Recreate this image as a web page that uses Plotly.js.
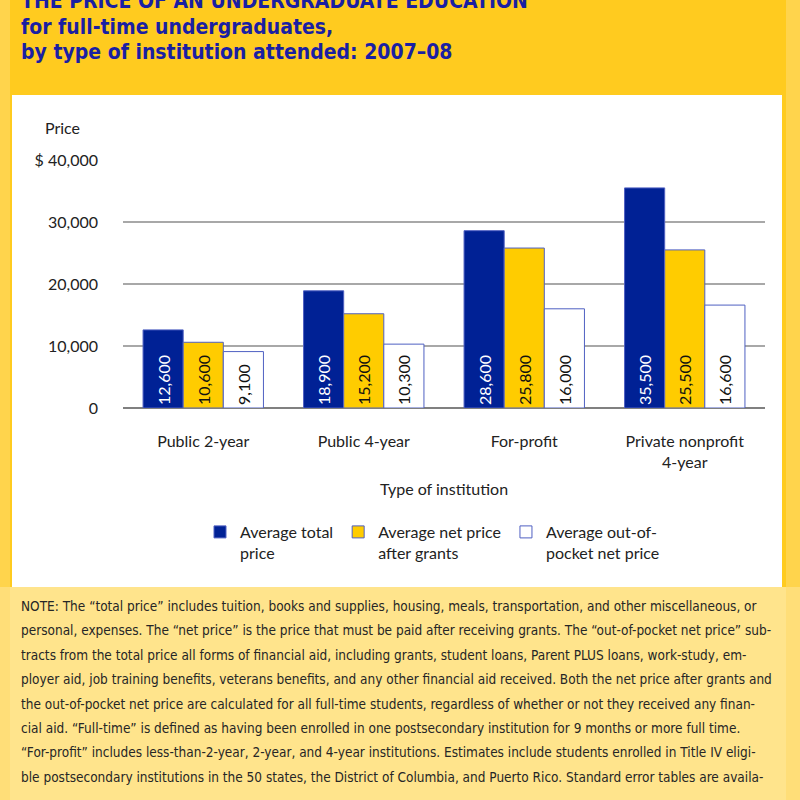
<!DOCTYPE html>
<html><head><meta charset="utf-8">
<script src="https://cdn.plot.ly/plotly-3.0.1.min.js"></script>
<style>html,body{margin:0;padding:0;background:#FFCB1F;}#chart{width:800px;height:800px;}</style>
</head><body><div id="chart"></div>
<script>
const categories = ['Public 2-year', 'Public 4-year', 'For-profit', 'Private nonprofit<br>4-year'];
const totalPrice = [12600, 18900, 28600, 35500];
const netPriceAfterGrants = [10600, 15200, 25800, 25500];
const outOfPocketNetPrice = [9100, 10300, 16000, 16600];
const seriesNames = ['Average total<br>price', 'Average net price<br>after grants', 'Average out-of-<br>pocket net price'];
const yTickVals = [0, 10000, 20000, 30000, 40000];
const yTickText = ['0', '10,000', '20,000', '30,000', '$ 40,000'];
const titleLines = ['THE PRICE OF AN UNDERGRADUATE EDUCATION', 'for full-time undergraduates,', 'by type of institution attended: 2007–08'];
const noteLines = [
 'NOTE: The “total price” includes tuition, books and supplies, housing, meals, transportation, and other miscellaneous, or',
 'personal, expenses. The “net price” is the price that must be paid after receiving grants. The “out-of-pocket net price” sub-',
 'tracts from the total price all forms of financial aid, including grants, student loans, Parent PLUS loans, work-study, em-',
 'ployer aid, job training benefits, veterans benefits, and any other financial aid received. Both the net price after grants and',
 'the out-of-pocket net price are calculated for all full-time students, regardless of whether or not they received any finan-',
 'cial aid. “Full-time” is defined as having been enrolled in one postsecondary institution for 9 months or more full time.',
 '“For-profit” includes less-than-2-year, 2-year, and 4-year institutions. Estimates include students enrolled in Title IV eligi-',
 'ble postsecondary institutions in the 50 states, the District of Columbia, and Puerto Rico. Standard error tables are availa-'
];

// plot area in pixels
const L = 123, R = 765, T = 160, B = 408;
const px2x = p => (p - L) / (R - L);
const px2y = p => (B - p) / (B - T);

const NARROW = '"DejaVu Sans Condensed", "Liberation Sans Narrow", sans-serif';
const AXF = 'Lato, "Liberation Sans", sans-serif';
const outline = '#4f60c2';

// pick a note font size so the longest line fits the panel width
function fitSize(lines, family, maxW, start) {
  const c = document.createElement('canvas').getContext('2d');
  let s = start;
  while (s > 8) {
    c.font = s + 'px ' + family;
    const w = Math.max(...lines.map(t => c.measureText(t).width));
    if (w <= maxW) break;
    s -= 0.25;
  }
  return s;
}
const noteSize = fitSize(noteLines, NARROW, 758, 16);

const mk = (y, name, fill, txtColor) => ({
  type: 'bar', x: categories, y: y, name: name,
  marker: {color: fill, line: {color: outline, width: 1}},
  texttemplate: '%{y:,}', textposition: 'inside', insidetextanchor: 'start', textangle: -90,
  textfont: {family: AXF, size: 16, color: txtColor}, constraintext: 'none',
  hoverinfo: 'skip'
});

const data = [
  mk(totalPrice, seriesNames[0], '#002195', '#ffffff'),
  mk(netPriceAfterGrants, seriesNames[1], '#FFCC00', '#111111'),
  mk(outOfPocketNetPrice, seriesNames[2], '#ffffff', '#111111')
];

const annotations = [];
titleLines.forEach((t, i) => annotations.push({
  xref: 'paper', yref: 'paper', x: px2x(19), y: px2y([1, 27, 52][i]), xanchor: 'left', yanchor: 'middle',
  text: '<b>' + t + '</b>', showarrow: false, font: {family: NARROW, size: 21, color: '#1a1fa3'}
}));
annotations.push({xref: 'paper', yref: 'paper', x: px2x(62), y: px2y(128), xanchor: 'center', yanchor: 'middle',
  text: 'Price', showarrow: false, font: {family: AXF, size: 16, color: '#222'}});
noteLines.forEach((t, i) => annotations.push({
  xref: 'paper', yref: 'paper', x: px2x(19), y: px2y(606 + i * 24.4), xanchor: 'left', yanchor: 'middle',
  text: t, showarrow: false, font: {family: NARROW, size: noteSize, color: '#262626'}
}));

const layout = {
  width: 800, height: 800,
  margin: {l: L, r: 800 - R, t: T, b: 800 - B},
  paper_bgcolor: '#FFCB1F', plot_bgcolor: 'rgba(0,0,0,0)',
  barmode: 'group', bargap: 0.25, bargroupgap: 0,
  showlegend: true,
  legend: {orientation: 'h', x: px2x(200), y: px2y(515), xanchor: 'left', yanchor: 'top',
    font: {family: AXF, size: 16, color: '#222'}, valign: 'top', bgcolor: 'rgba(0,0,0,0)', itemwidth: 30, traceorder: 'normal'},
  xaxis: {type: 'category', tickfont: {family: AXF, size: 16, color: '#222'}, ticks: '', ticklabelstandoff: 22,
    showgrid: false, showline: false, fixedrange: true,
    title: {text: 'Type of institution', font: {family: AXF, size: 16, color: '#222'}, standoff: 14}},
  yaxis: {range: [0, 40000], tickvals: yTickVals, ticktext: yTickText, ticks: '', ticklabelstandoff: 24,
    tickfont: {family: AXF, size: 16, color: '#222'}, showgrid: true, gridcolor: '#a8a8a8', gridwidth: 2,
    zeroline: true, zerolinecolor: '#808080', zerolinewidth: 2, showline: false, fixedrange: true},
  shapes: [
    {type: 'rect', xref: 'paper', yref: 'paper', x0: px2x(12), x1: px2x(782), y0: px2y(587), y1: px2y(95),
      fillcolor: '#ffffff', line: {width: 0}, layer: 'below'},
    {type: 'rect', xref: 'paper', yref: 'paper', x0: px2x(0), x1: px2x(800), y0: px2y(800), y1: px2y(587),
      fillcolor: '#FFE48C', line: {width: 0}, layer: 'below'},
    {type: 'rect', xref: 'paper', yref: 'paper', x0: px2x(0), x1: px2x(10), y0: px2y(800), y1: px2y(0),
      fillcolor: '#FFDA6A', line: {width: 0}, layer: 'below', opacity: 0.6},
    {type: 'rect', xref: 'paper', yref: 'paper', x0: px2x(786), x1: px2x(800), y0: px2y(800), y1: px2y(0),
      fillcolor: '#FFDA6A', line: {width: 0}, layer: 'below', opacity: 0.6}
  ],
  annotations: annotations
};

Plotly.newPlot('chart', data, layout, {displayModeBar: false, staticPlot: true});
</script></body></html>
